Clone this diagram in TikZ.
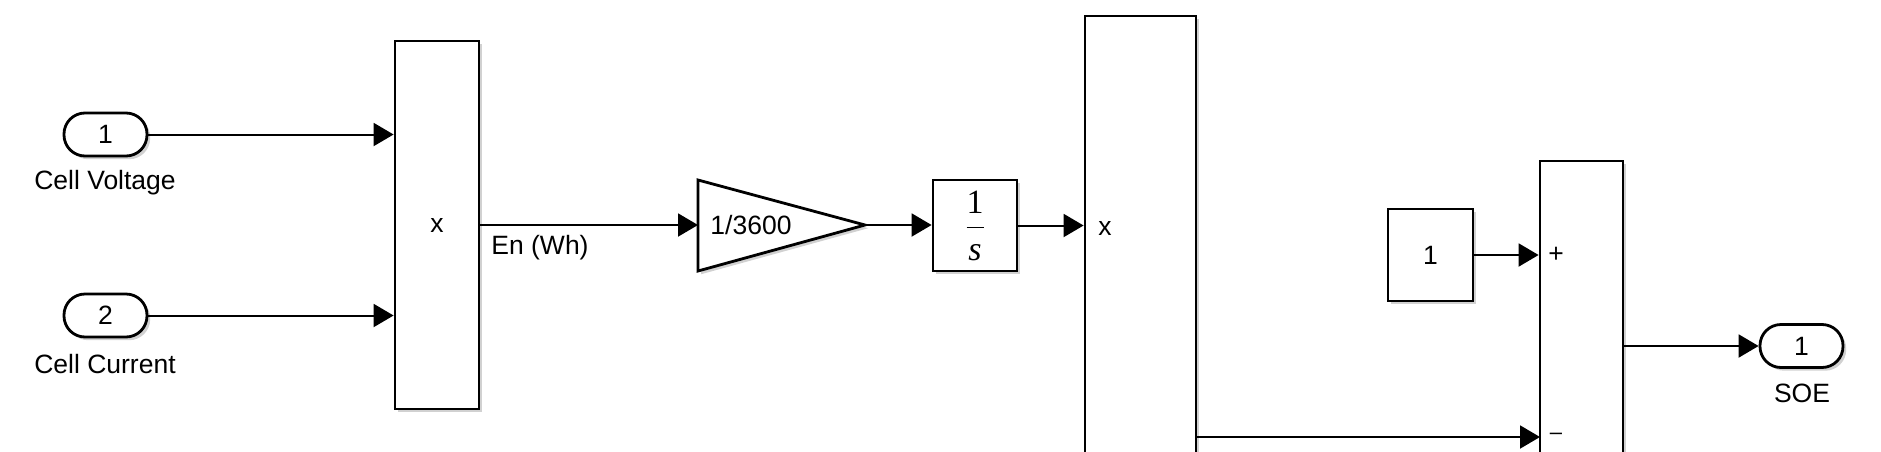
\documentclass[tikz,border=0pt]{standalone}
\usepackage{fontspec}
\setmainfont{Liberation Sans}
\newfontfamily\tnr{Liberation Serif}
\usetikzlibrary{arrows.meta,shadows}
\begin{document}
\begin{tikzpicture}[x=0.5pt,y=-0.5pt,
  font=\fontsize{13.25}{16}\selectfont,
  shade/.style={drop shadow={shadow xshift=1.6pt,shadow yshift=-1.6pt,opacity=.3,fill=black!60}},
  blk/.style={draw,line width=1.4pt,fill=white,shade,inner sep=0pt},
  port/.style={blk,rounded corners=10.5pt,minimum width=41.5pt,minimum height=21.5pt},
  sig/.style={line width=1pt,-{Triangle[length=10pt,width=11.5pt]}},
  lbl/.style={inner sep=0pt}]
\useasboundingbox (0,0) rectangle (1881,451);
\clip (0,0) rectangle (1881,451);
% inports
\node[port] (in1) at (105.5,134.5) {1};
\node[port] (in2) at (105.5,315.5) {2};
\node[lbl] (l1) at (105,183) {Cell Voltage};
\node[lbl] (l2) at (105,364) {Cell Current};
% product 1
\node[blk,minimum width=42pt,minimum height=184pt] (p1) at (437,225) {x};
% gain
\coordinate (gin) at (698,225);
\coordinate (gout) at (865,225);
\draw[line width=1.4pt,fill=white,shade] (698,180) -- (865,225) -- (698,271) -- cycle;
\node[lbl] (gtxt) at (751,225) {1/3600};
% integrator
\node[blk,minimum width=42pt,minimum height=45.5pt] (int) at (975,225.5)
  {\fontsize{17}{19}\selectfont$\displaystyle\frac{\mbox{\tnr 1}}{\mbox{\tnr\itshape s}}$};
% product 2
\node[blk,minimum width=55.5pt,minimum height=260pt] (p2) at (1140.5,276) {};
\node[lbl] (p2x) at (1105,228) {x};
% constant
\node[blk,minimum width=42.5pt,minimum height=46pt] (c1) at (1430.5,255) {1};
% sum
\node[blk,minimum width=41.5pt,minimum height=185pt] (sum) at (1581.5,346) {};
\node[lbl] (plus) at (1556,255) {+};
\node[lbl] (minus) at (1556,436) {\fontsize{11}{12}\selectfont\textendash};
% outport
\node[port] (out1) at (1801.5,346) {1};
\node[lbl] (l3) at (1802,393) {SOE};
% label
\node[lbl] (en) at (540,248) {En (Wh)};
% connectors
\coordinate (s1) at (sum.west |- c1);
\coordinate (s2) at (1540,437);
\draw[sig] (in1) -- (in1 -| p1.west);
\draw[sig] (in2) -- (in2 -| p1.west);
\draw[sig] (p1.east |- gin) -- (gin);
\draw[sig] (gout) -- (int.west |- gout);
\draw[sig] (int.east) -- (int.east -| p2.west);
\draw[sig] (c1.east) -- (s1);
\draw[sig] (p2.east |- s2) -- (s2);
\draw[sig] (sum.east) -- (sum.east -| out1.west);
\end{tikzpicture}
\end{document}
